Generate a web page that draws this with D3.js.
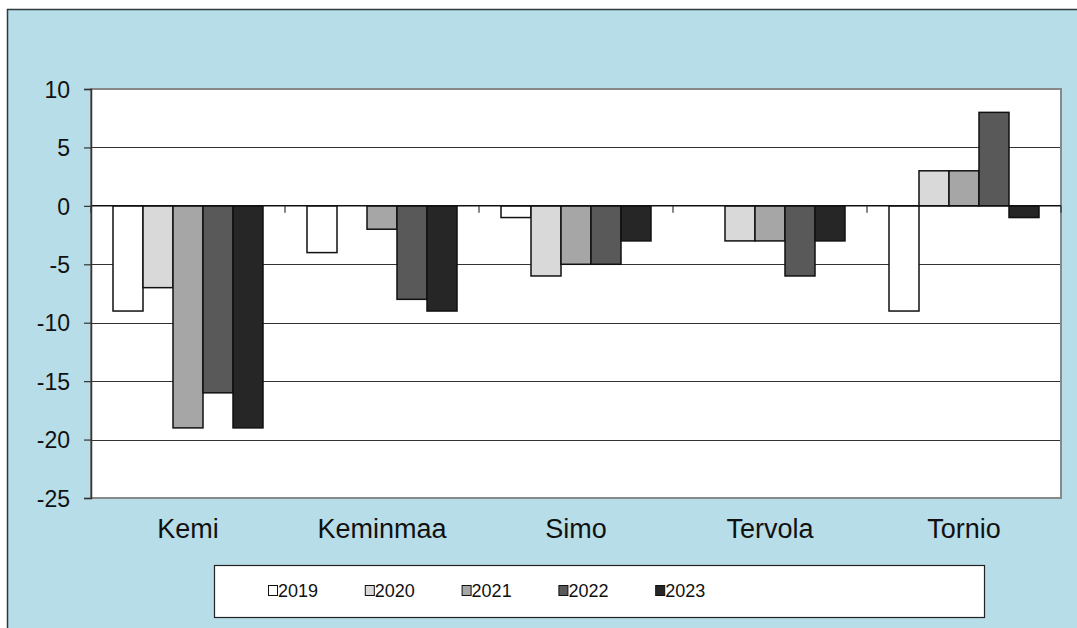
<!DOCTYPE html>
<html><head><meta charset="utf-8">
<script src="https://cdn.jsdelivr.net/npm/d3@7"></script>
<style>html,body{margin:0;padding:0;background:#fff;}svg{display:block;font-family:"Liberation Sans",Arial,sans-serif;}</style>
</head><body>
<svg id="c" width="1077" height="628"></svg>
<script>
const categories = ["Kemi","Keminmaa","Simo","Tervola","Tornio"];
const years = ["2019","2020","2021","2022","2023"];
const v2019 = [-9,-4,-1,0,-9];
const v2020 = [-7,0,-6,-3,3];
const v2021 = [-19,-2,-5,-3,3];
const v2022 = [-16,-8,-5,-6,8];
const v2023 = [-19,-9,-3,-3,-1];
const yTicks = [10,5,0,-5,-10,-15,-20,-25];
const colors = ["#ffffff","#d9d9d9","#a6a6a6","#595959","#262626"];
const series = [v2019,v2020,v2021,v2022,v2023];

const svg = d3.select("#c");
svg.append("rect").attr("x",7.5).attr("y",9.5).attr("width",1080).attr("height",630)
  .attr("fill","#b7dde8").attr("stroke","#2f3a3d").attr("stroke-width",1.5);

const L=91,R=1061,T=89,B=498;
const x = d3.scaleBand().domain(categories).range([L,R]).paddingInner(0).paddingOuter(0);
const x1 = d3.scaleBand().domain(years).range([0,x.bandwidth()]).paddingOuter(22/30).paddingInner(0);
const y = d3.scaleLinear().domain([-25,10]).range([B,T]);

svg.append("rect").attr("x",L).attr("y",T).attr("width",R-L).attr("height",B-T).attr("fill","#fff");

svg.append("g").selectAll("line").data(yTicks.filter(d=>d!==10 && d!==-25 && d!==0)).join("line")
  .attr("x1",L).attr("x2",R).attr("y1",d=>Math.round(y(d))+0.5).attr("y2",d=>Math.round(y(d))+0.5)
  .attr("stroke","#333").attr("stroke-width",1);

svg.append("rect").attr("x",L).attr("y",T).attr("width",R-L).attr("height",B-T)
  .attr("fill","none").attr("stroke","#888").attr("stroke-width",2);

const rows=[];
categories.forEach((c,i)=>years.forEach((yr,j)=>rows.push({c,yr,v:series[j][i],col:colors[j]})));
svg.append("g").selectAll("rect").data(rows.filter(d=>d.v!==0)).join("rect")
  .attr("x",d=>x(d.c)+x1(d.yr)).attr("width",x1.bandwidth())
  .attr("y",d=>y(Math.max(0,d.v))).attr("height",d=>Math.abs(y(d.v)-y(0)))
  .attr("fill",d=>d.col).attr("stroke","#111").attr("stroke-width",1.5);

svg.append("line").attr("x1",L).attr("x2",R).attr("y1",y(0)).attr("y2",y(0)).attr("stroke","#111").attr("stroke-width",1.5);
svg.append("g").selectAll("line").data(d3.range(categories.length+1)).join("line")
  .attr("x1",i=>L+i*x.bandwidth()).attr("x2",i=>L+i*x.bandwidth())
  .attr("y1",y(0)).attr("y2",y(0)+7).attr("stroke","#333").attr("stroke-width",1.2);

const ya = svg.append("g").attr("transform",`translate(${L},0)`)
  .call(d3.axisLeft(y).tickValues(yTicks).tickSize(7).tickPadding(14).tickFormat(d=>String(d)));
ya.select(".domain").attr("stroke","#333").attr("stroke-width",1.5);
ya.selectAll(".tick line").attr("stroke","#333").attr("stroke-width",1.2);
ya.selectAll(".tick text").attr("font-size",23).attr("dy","0.36em").attr("fill","#111").attr("font-family","Liberation Sans, Arial, sans-serif");

svg.append("g").selectAll("text").data(categories).join("text")
  .attr("x",d=>x(d)+x.bandwidth()/2).attr("y",538).attr("text-anchor","middle")
  .attr("font-size",27).attr("fill","#111").text(d=>d);

svg.append("rect").attr("x",214.5).attr("y",565.5).attr("width",770).attr("height",52)
  .attr("fill","#fff").attr("stroke","#222").attr("stroke-width",1.2);
const lg = svg.append("g").selectAll("g").data(years).join("g")
  .attr("transform",(d,i)=>`translate(${268+i*96.8},0)`);
lg.append("rect").attr("x",0.5).attr("y",585.5).attr("width",9).attr("height",10)
  .attr("fill",(d,i)=>colors[i]).attr("stroke","#111").attr("stroke-width",1);
lg.append("text").attr("x",10).attr("y",597).attr("font-size",18).attr("fill","#111").text(d=>d);
</script>
</body></html>
